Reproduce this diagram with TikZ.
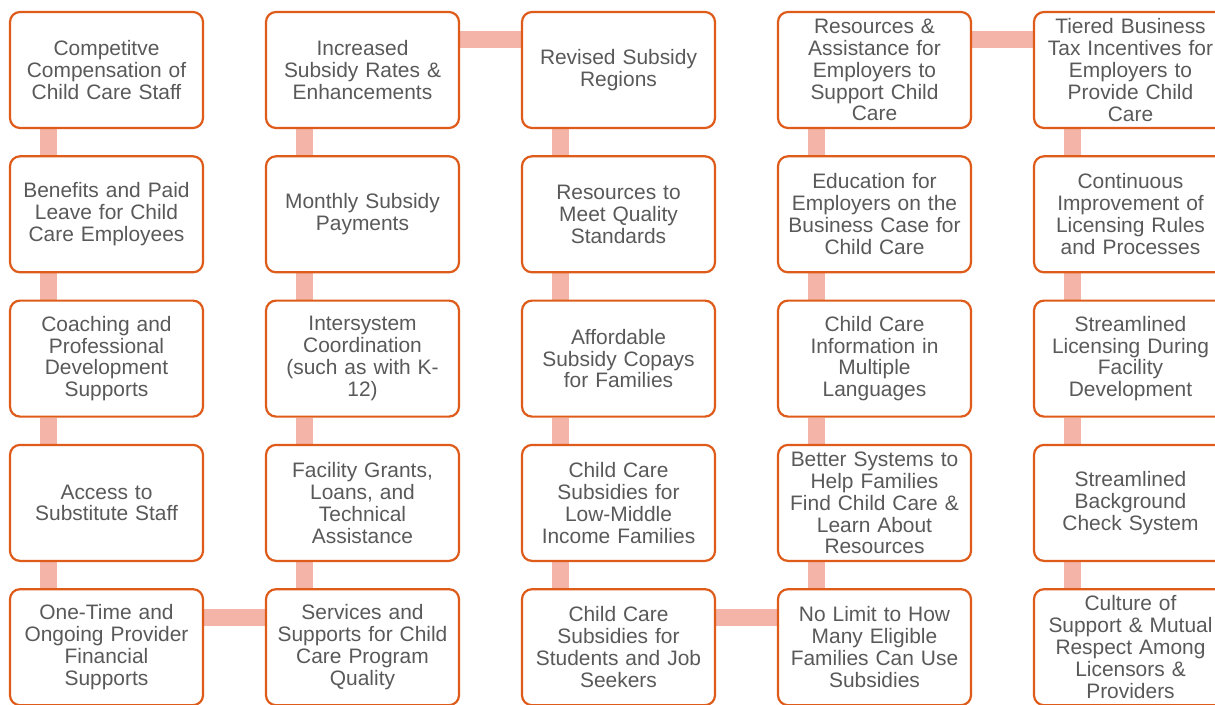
\documentclass[tikz,border=0pt]{standalone}
\usepackage{fontspec}
\setmainfont{Liberation Sans}
\usetikzlibrary{backgrounds}
\definecolor{boxline}{HTML}{DE5B1A}
\definecolor{barfill}{HTML}{F4B5A8}
\definecolor{boxtext}{HTML}{595959}

\begin{document}
\begin{tikzpicture}[x=1bp,y=-1bp,
  stage/.style={shape=rectangle,rounded corners=10bp,draw=boxline,fill=white,line width=2.2bp,align=center,text width=190bp,minimum width=193bp,minimum height=116bp,inner sep=0pt,text=boxtext,font=\fontsize{21}{22}\selectfont},
  bar/.style={draw=barfill,line width=17bp}]
\useasboundingbox (0,0) rectangle (1215,705);
\node[stage] (0) at (106.5,70) {Competitve\\Compensation of\\Child Care Staff};
\node[stage] (1) at (106.5,214.3) {Benefits and Paid\\Leave for Child\\Care Employees};
\node[stage] (2) at (106.5,358.6) {Coaching and\\Professional\\Development\\Supports};
\node[stage] (3) at (106.5,502.9) {Access to\\Substitute Staff};
\node[stage] (4) at (106.5,647.2) {One-Time and\\Ongoing Provider\\Financial\\Supports};
\node[stage] (5) at (362.5,647.2) {Services and\\Supports for Child\\Care Program\\Quality};
\node[stage] (6) at (362.5,502.9) {Facility Grants,\\Loans, and\\Technical\\Assistance};
\node[stage] (7) at (362.5,358.6) {Intersystem\\Coordination\\(such as with K-\\12)};
\node[stage] (8) at (362.5,214.3) {Monthly Subsidy\\Payments};
\node[stage] (9) at (362.5,70) {Increased\\Subsidy Rates \&\\Enhancements};
\node[stage] (10) at (618.5,70) {Revised Subsidy\\Regions};
\node[stage] (11) at (618.5,214.3) {Resources to\\Meet Quality\\Standards};
\node[stage] (12) at (618.5,358.6) {Affordable\\Subsidy Copays\\for Families};
\node[stage] (13) at (618.5,502.9) {Child Care\\Subsidies for\\Low-Middle\\Income Families};
\node[stage] (14) at (618.5,647.2) {Child Care\\Subsidies for\\Students and Job\\Seekers};
\node[stage] (15) at (874.5,647.2) {No Limit to How\\Many Eligible\\Families Can Use\\Subsidies};
\node[stage] (16) at (874.5,502.9) {Better Systems to\\Help Families\\Find Child Care \&\\Learn About\\Resources};
\node[stage] (17) at (874.5,358.6) {Child Care\\Information in\\Multiple\\Languages};
\node[stage] (18) at (874.5,214.3) {Education for\\Employers on the\\Business Case for\\Child Care};
\node[stage] (19) at (874.5,70) {Resources \&\\Assistance for\\Employers to\\Support Child\\Care};
\node[stage] (20) at (1130.5,70) {Tiered Business\\Tax Incentives for\\Employers to\\Provide Child\\Care};
\node[stage] (21) at (1130.5,214.3) {Continuous\\Improvement of\\Licensing Rules\\and Processes};
\node[stage] (22) at (1130.5,358.6) {Streamlined\\Licensing During\\Facility\\Development};
\node[stage] (23) at (1130.5,502.9) {Streamlined\\Background\\Check System};
\node[stage] (24) at (1130.5,647.2) {Culture of\\Support \& Mutual\\Respect Among\\Licensors \&\\Providers};

\begin{scope}[on background layer]
\path [bar] ([xshift=40bp]0.south west) -- ([xshift=40bp]1.north west);
\path [bar] ([xshift=40bp]1.south west) -- ([xshift=40bp]2.north west);
\path [bar] ([xshift=40bp]2.south west) -- ([xshift=40bp]3.north west);
\path [bar] ([xshift=40bp]3.south west) -- ([xshift=40bp]4.north west);
\path [bar] ([yshift=-29bp]4.north east) -- ([yshift=-29bp]5.north west);
\path [bar] ([xshift=40bp]5.north west) -- ([xshift=40bp]6.south west);
\path [bar] ([xshift=40bp]6.north west) -- ([xshift=40bp]7.south west);
\path [bar] ([xshift=40bp]7.north west) -- ([xshift=40bp]8.south west);
\path [bar] ([xshift=40bp]8.north west) -- ([xshift=40bp]9.south west);
\path [bar] ([yshift=-29bp]9.north east) -- ([yshift=-29bp]10.north west);
\path [bar] ([xshift=40bp]10.south west) -- ([xshift=40bp]11.north west);
\path [bar] ([xshift=40bp]11.south west) -- ([xshift=40bp]12.north west);
\path [bar] ([xshift=40bp]12.south west) -- ([xshift=40bp]13.north west);
\path [bar] ([xshift=40bp]13.south west) -- ([xshift=40bp]14.north west);
\path [bar] ([yshift=-29bp]14.north east) -- ([yshift=-29bp]15.north west);
\path [bar] ([xshift=40bp]15.north west) -- ([xshift=40bp]16.south west);
\path [bar] ([xshift=40bp]16.north west) -- ([xshift=40bp]17.south west);
\path [bar] ([xshift=40bp]17.north west) -- ([xshift=40bp]18.south west);
\path [bar] ([xshift=40bp]18.north west) -- ([xshift=40bp]19.south west);
\path [bar] ([yshift=-29bp]19.north east) -- ([yshift=-29bp]20.north west);
\path [bar] ([xshift=40bp]20.south west) -- ([xshift=40bp]21.north west);
\path [bar] ([xshift=40bp]21.south west) -- ([xshift=40bp]22.north west);
\path [bar] ([xshift=40bp]22.south west) -- ([xshift=40bp]23.north west);
\path [bar] ([xshift=40bp]23.south west) -- ([xshift=40bp]24.north west);
\end{scope}
\end{tikzpicture}
\end{document}
